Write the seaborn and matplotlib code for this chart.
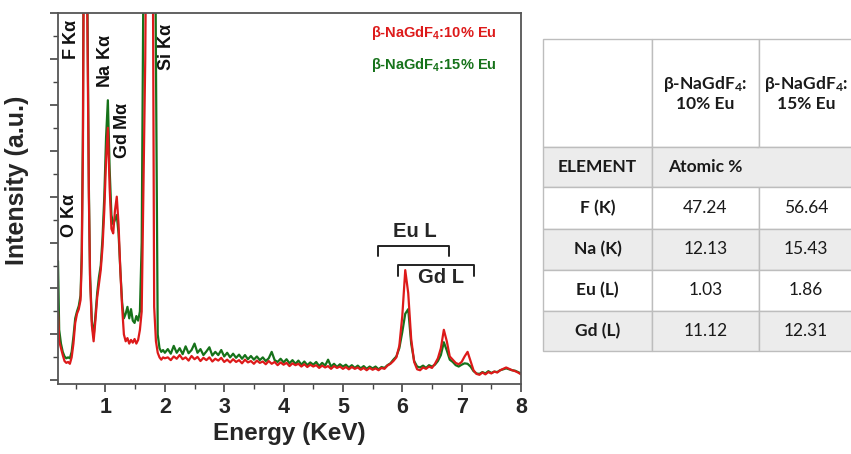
# %%
# Bibliotecas
import pandas as pd
import matplotlib
matplotlib.use("Agg")
import matplotlib.pyplot as plt
import seaborn as sns
from matplotlib.ticker import MultipleLocator
from matplotlib.patches import Rectangle

# %%
# Dados lidos do espectro EDS (energia em KeV, intensidade em u.a.)
energy = [
    0.20, 0.22, 0.25, 0.28, 0.31, 0.34, 0.37, 0.40, 0.43, 0.46, 0.49, 0.52,
    0.55, 0.58, 0.60, 0.62, 0.64, 0.66, 0.68, 0.70, 0.72, 0.74, 0.77, 0.80,
    0.83, 0.86, 0.89, 0.92, 0.95, 0.98, 1.01, 1.04, 1.07, 1.10, 1.13, 1.16,
    1.19, 1.22, 1.25, 1.28, 1.31, 1.34, 1.37, 1.40, 1.43, 1.46, 1.49, 1.52,
    1.55, 1.58, 1.61, 1.64, 1.67, 1.70, 1.73, 1.76, 1.79, 1.82, 1.85, 1.88,
    1.91, 1.94, 1.97, 2.00,
    2.05, 2.10, 2.15, 2.20, 2.25, 2.30, 2.35, 2.40, 2.45, 2.50, 2.55, 2.60,
    2.65, 2.70, 2.75, 2.80, 2.85, 2.90, 2.95, 3.00, 3.05, 3.10, 3.15, 3.20,
    3.25, 3.30, 3.35, 3.40, 3.45, 3.50, 3.55, 3.60, 3.65, 3.70, 3.75, 3.80,
    3.85, 3.90, 3.95, 4.00, 4.05, 4.10, 4.15, 4.20, 4.25, 4.30, 4.35, 4.40,
    4.45, 4.50, 4.55, 4.60, 4.65, 4.70, 4.75, 4.80, 4.85, 4.90, 4.95, 5.00,
    5.05, 5.10, 5.15, 5.20, 5.25, 5.30, 5.35, 5.40, 5.45, 5.50, 5.55, 5.60,
    5.65, 5.70, 5.75, 5.80, 5.85, 5.90, 5.95, 6.00, 6.05, 6.10, 6.15, 6.20,
    6.25, 6.30, 6.35, 6.40, 6.45, 6.50, 6.55, 6.60, 6.65, 6.70, 6.75, 6.80,
    6.85, 6.90, 6.95, 7.00, 7.05, 7.10, 7.15, 7.20, 7.25, 7.30, 7.35, 7.40,
    7.45, 7.50, 7.55, 7.60, 7.65, 7.70, 7.75, 7.80, 7.85, 7.90, 7.95, 8.00,
]

# beta-NaGdF4:10% Eu (vermelho)
int_10eu = [
    1.50, 0.85, 0.70, 0.55, 0.42, 0.38, 0.40, 0.36, 0.50, 0.80, 1.25, 1.45,
    1.55, 1.75, 2.60, 5.00, 11.0, 14.0, 10.0, 7.00, 4.00, 2.20, 1.20, 0.85,
    1.30, 1.80, 2.10, 2.40, 2.90, 3.70, 4.80, 5.50, 4.20, 3.30, 3.20, 3.70,
    4.00, 3.40, 2.40, 1.60, 1.00, 0.85, 0.92, 0.80, 0.88, 0.82, 0.90, 0.80,
    0.88, 1.10, 1.50, 4.30, 7.00, 12.0, 16.0, 13.0, 12.0, 1.60, 0.85, 0.60,
    0.50, 0.45, 0.50, 0.48,
    0.50, 0.44, 0.52, 0.47, 0.55, 0.46, 0.50, 0.43, 0.53, 0.46, 0.51, 0.42,
    0.49, 0.44, 0.50, 0.41, 0.47, 0.43, 0.49, 0.40, 0.45, 0.39, 0.46, 0.40,
    0.44, 0.37, 0.45, 0.39, 0.42, 0.36, 0.43, 0.38, 0.41, 0.35, 0.42, 0.36,
    0.40, 0.33, 0.39, 0.34, 0.38, 0.31, 0.37, 0.33, 0.36, 0.30, 0.35, 0.29,
    0.34, 0.30, 0.33, 0.27, 0.32, 0.28, 0.31, 0.25, 0.31, 0.27, 0.30, 0.25,
    0.29, 0.24, 0.29, 0.25, 0.28, 0.23, 0.27, 0.22, 0.27, 0.23, 0.26, 0.22,
    0.27, 0.25, 0.32, 0.36, 0.42, 0.50, 0.75, 1.40, 2.40, 1.90, 0.90, 0.40,
    0.24, 0.22, 0.28, 0.25, 0.30, 0.27, 0.36, 0.48, 0.70, 1.10, 0.85, 0.52,
    0.45, 0.38, 0.35, 0.40, 0.52, 0.62, 0.42, 0.22, 0.14, 0.12, 0.17, 0.13,
    0.18, 0.15, 0.19, 0.17, 0.22, 0.25, 0.28, 0.25, 0.22, 0.20, 0.17, 0.13,
]

# beta-NaGdF4:15% Eu (verde)
int_15eu = [
    2.60, 1.10, 0.80, 0.62, 0.52, 0.48, 0.50, 0.48, 0.62, 0.95, 1.35, 1.50,
    1.62, 1.85, 2.80, 5.50, 12.0, 15.0, 11.0, 7.50, 4.20, 2.30, 1.30, 0.95,
    1.40, 1.90, 2.25, 2.50, 3.10, 4.00, 5.30, 6.10, 4.60, 3.60, 3.40, 3.50,
    3.60, 3.20, 2.40, 1.70, 1.35, 1.45, 1.60, 1.35, 1.55, 1.30, 1.25, 1.40,
    1.30, 1.50, 3.00, 9.00, 13.0, 16.0, 17.0, 16.0, 14.0, 14.0, 7.00, 1.00,
    0.70, 0.62, 0.66, 0.60,
    0.68, 0.58, 0.75, 0.60, 0.70, 0.57, 0.74, 0.59, 0.66, 0.80, 0.60, 0.68,
    0.55, 0.63, 0.72, 0.54, 0.62, 0.55, 0.66, 0.52, 0.60, 0.50, 0.58, 0.49,
    0.56, 0.47, 0.55, 0.46, 0.53, 0.45, 0.52, 0.44, 0.50, 0.42, 0.48, 0.62,
    0.44, 0.40, 0.47, 0.39, 0.46, 0.37, 0.44, 0.36, 0.43, 0.34, 0.41, 0.33,
    0.39, 0.34, 0.40, 0.31, 0.38, 0.32, 0.45, 0.30, 0.36, 0.29, 0.35, 0.30,
    0.34, 0.28, 0.33, 0.27, 0.32, 0.26, 0.31, 0.25, 0.30, 0.26, 0.30, 0.24,
    0.29, 0.27, 0.33, 0.37, 0.45, 0.52, 0.70, 1.05, 1.45, 1.55, 0.80, 0.42,
    0.30, 0.28, 0.32, 0.27, 0.33, 0.30, 0.34, 0.42, 0.55, 0.83, 0.65, 0.45,
    0.40, 0.33, 0.30, 0.34, 0.37, 0.36, 0.30, 0.20, 0.15, 0.14, 0.18, 0.15,
    0.20, 0.16, 0.19, 0.18, 0.22, 0.24, 0.26, 0.24, 0.22, 0.21, 0.18, 0.15,
]

samples = ["β-NaGdF$_4$:15% Eu", "β-NaGdF$_4$:10% Eu"]

peak_labels = ["O K$\\alpha$", "F K$\\alpha$", "Na K$\\alpha$", "Gd M$\\alpha$", "Si K$\\alpha$"]
peak_x = [0.39, 0.43, 1.00, 1.29, 2.03]
peak_y = [3.59, 7.43, 6.95, 5.46, 7.26]

# Tabela de composicao (% atomica)
table_header = ["", "β-NaGdF$_4$:\n10% Eu", "β-NaGdF$_4$:\n15% Eu"]
elements = ["F (K)", "Na (K)", "Eu (L)", "Gd (L)"]
atomic_10 = ["47.24", "12.13", "1.03", "11.12"]
atomic_15 = ["56.64", "15.43", "1.86", "12.31"]

# %%
# Configuracoes globais
sns.set_theme(style="ticks")
plt.rcParams['font.family'] = ['Liberation Sans', 'DejaVu Sans']
plt.rcParams['mathtext.default'] = 'regular'

RED = '#dd1a1a'
GREEN = '#16721a'
GRAY_CELL = '#ececec'
pal = {samples[0]: GREEN, samples[1]: RED}

df = pd.DataFrame({
    'Energy': energy * 2,
    'Intensity': int_15eu + int_10eu,
    'Amostra': [samples[0]] * len(energy) + [samples[1]] * len(energy),
})

fig = plt.figure(figsize=(8.51, 4.54), dpi=100)
ax = fig.add_axes([58 / 851, 1 - 384 / 454, 463 / 851, 371 / 454])

sns.lineplot(data=df, x='Energy', y='Intensity', hue='Amostra', hue_order=samples,
             palette=pal, estimator=None, sort=False, legend=False, lw=1.6, ax=ax)

ax.set_xlim(0.2, 8)
ax.set_ylim(-0.08, 8)
ax.xaxis.set_major_locator(MultipleLocator(1))
ax.xaxis.set_minor_locator(MultipleLocator(0.5))
ax.yaxis.set_major_locator(MultipleLocator(1))
ax.yaxis.set_minor_locator(MultipleLocator(0.5))
ax.tick_params(axis='both', which='major', direction='out', length=6, width=1.2,
               color='#444444', labelsize=15.5)
ax.tick_params(axis='both', which='minor', direction='out', length=3.5, width=1.0,
               color='#444444')
ax.tick_params(axis='y', labelleft=False)
for lab in ax.get_xticklabels():
    lab.set_fontweight('bold')
for sp in ax.spines.values():
    sp.set_visible(True)
    sp.set_color('#555555')
    sp.set_linewidth(1.3)

ax.set_xlabel('Energy (KeV)', fontsize=17.5, fontweight='bold', labelpad=3)
ax.set_ylabel('Intensity (a.u.)', fontsize=18, fontweight='bold')
ax.yaxis.set_label_coords(-0.062, 0.55)

# Rotulos dos picos
for txt, px, py in zip(peak_labels, peak_x, peak_y):
    ax.text(px, py, txt, rotation=90, ha='center', va='center',
            fontsize=13, fontweight='bold', color='#111111')

# Colchetes Eu L / Gd L
ax.plot([5.59, 5.59, 6.78, 6.78], [2.70, 2.93, 2.93, 2.70], color='#222222', lw=1.4)
ax.text(6.21, 3.24, 'Eu L', ha='center', va='center', fontsize=14.5, fontweight='bold')
ax.plot([5.92, 5.92, 7.21, 7.21], [2.28, 2.52, 2.52, 2.28], color='#222222', lw=1.4)
ax.text(6.66, 2.24, 'Gd L', ha='center', va='center', fontsize=14.5, fontweight='bold')

# Legenda em texto
ax.text(0.948, 0.946, samples[1], transform=ax.transAxes, ha='right', va='center',
        fontsize=10.5, fontweight='bold', color=RED)
ax.text(0.948, 0.860, samples[0], transform=ax.transAxes, ha='right', va='center',
        fontsize=10.5, fontweight='bold', color=GREEN)

# %%
# Tabela
tax = fig.add_axes([543 / 851, 1 - 351 / 454, 310 / 851, 312 / 454])
tax.axis('off')

cell_text = [table_header, ["ELEMENT", "", ""]]
for e, a, b in zip(elements, atomic_10, atomic_15):
    cell_text.append([e, a, b])

row_h = [108, 40, 41, 41, 41, 40]
col_w = [109, 107, 94]

# fundo da celula mesclada "Atomic %"
y0 = sum(row_h[2:]) / sum(row_h)
x0 = col_w[0] / sum(col_w)
tax.add_patch(Rectangle((x0, y0), 1 - x0, row_h[1] / sum(row_h),
                        transform=tax.transAxes, facecolor=GRAY_CELL,
                        edgecolor='none', zorder=-1))

tab = tax.table(cellText=cell_text, cellLoc='center', bbox=[0, 0, 1, 1])
tab.auto_set_font_size(False)
for (r, c), cell in tab.get_celld().items():
    cell.set_height(row_h[r])
    cell.set_width(col_w[c])
    cell.set_edgecolor('#bdbdbd')
    cell.set_linewidth(1.0)
    cell.set_facecolor(GRAY_CELL if r in (1, 3, 5) else 'white')
    t = cell.get_text()
    t.set_fontsize(12.5)
    t.set_family(['Lato', 'DejaVu Sans'])
    t.set_color('#1a1a1a')
    if r <= 1 or c == 0:
        t.set_fontweight('bold')

tab[1, 1].visible_edges = 'BTL'
tab[1, 2].visible_edges = 'BTR'
x_atomic = (col_w[0] + col_w[1] / 2) / sum(col_w)
tax.text(x_atomic, y0 + row_h[1] / sum(row_h) / 2, 'Atomic %', transform=tax.transAxes,
         ha='center', va='center', fontsize=12.5, fontweight='bold', color='#1a1a1a',
         family=['Lato', 'DejaVu Sans'])

fig.savefig('out.png', dpi=100)
